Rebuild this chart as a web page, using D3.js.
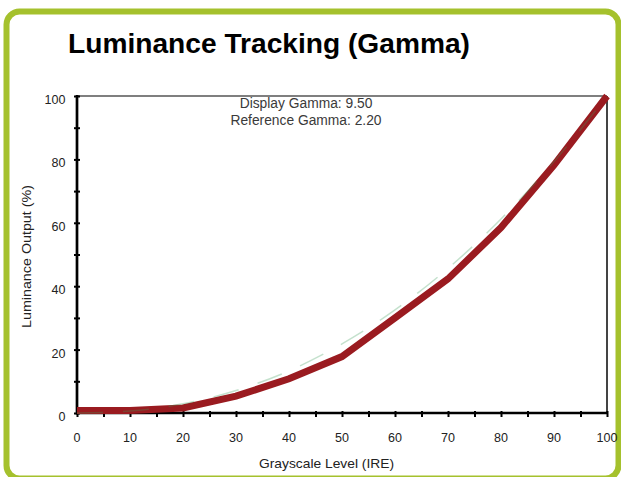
<!DOCTYPE html>
<html><head><meta charset="utf-8">
<script src="https://cdn.jsdelivr.net/npm/d3@7"></script>
<style>body{margin:0;background:#fff}svg{display:block}</style>
</head><body>
<svg id="c" width="621" height="477"></svg>
<script>
const levels = [0,10,20,30,40,50,60,70,80,90,100];
const displayLum = [0.8,0.8,1.6,5.3,10.8,17.8,30,42.3,58.5,78.2,100];
const referenceLum = [0,0.6,2.9,7.1,13.3,21.8,32.5,45.6,61.2,79.3,100];
const xTickLabels = [0,10,20,30,40,50,60,70,80,90,100];
const yTickLabels = [0,20,40,60,80,100];
const titleText = "Luminance Tracking (Gamma)";
const annotation = ["Display Gamma: 9.50","Reference Gamma: 2.20"];

const svg = d3.select("#c");
const FONT = "'Liberation Sans', Arial, Helvetica, sans-serif";

// green frame
svg.append("rect").attr("x",6.5).attr("y",11.5).attr("width",612).attr("height",467)
  .attr("rx",13).attr("fill","none").attr("stroke","#a5c12d").attr("stroke-width",6);

const x = d3.scaleLinear().domain([0,100]).range([77,607]);
const y = d3.scaleLinear().domain([0,100]).range([413,96]);

// title
svg.append("text").attr("x",68).attr("y",53).text(titleText)
  .attr("font-family",FONT).attr("font-weight","bold").attr("font-size",28).attr("fill","#000")
  .attr("textLength",402).attr("lengthAdjust","spacingAndGlyphs");

// frame top & right
svg.append("line").attr("x1",x(0)).attr("x2",x(100)).attr("y1",y(100)).attr("y2",y(100))
  .attr("stroke","#000").attr("stroke-width",1.2);
svg.append("line").attr("x1",x(100)).attr("x2",x(100)).attr("y1",y(100)).attr("y2",y(0))
  .attr("stroke","#444").attr("stroke-width",2);

// y axis
const yAxis = d3.axisLeft(y).tickValues(d3.range(0,101,10)).tickSize(6).tickFormat("");
const gy = svg.append("g").attr("transform",`translate(${x(0)+3},0)`).call(yAxis);
gy.select(".domain").remove();
gy.selectAll(".tick line").attr("stroke","#000").attr("stroke-width",2);
svg.append("line").attr("x1",x(0)).attr("x2",x(0)).attr("y1",y(100)-1).attr("y2",y(0)+1.5)
  .attr("stroke","#000").attr("stroke-width",2.7);
svg.selectAll(".ylab").data(yTickLabels).join("text").attr("class","ylab")
  .attr("x",65.5).attr("y",d=>y(d)+8).attr("text-anchor","end")
  .attr("font-family",FONT).attr("font-size",13.5).attr("fill","#222").text(d=>d)
  .attr("transform",d=>`translate(65.5,${y(d)+8}) scale(0.93,1) translate(-65.5,${-(y(d)+8)})`);

// x axis
const xAxis = d3.axisBottom(x).tickValues(d3.range(0,101,5)).tickSize(6).tickFormat("");
const gx = svg.append("g").attr("transform",`translate(0,${y(0)-2})`).call(xAxis);
gx.select(".domain").remove();
gx.selectAll(".tick line").attr("stroke","#000").attr("stroke-width",2);
svg.append("line").attr("x1",x(0)-1).attr("x2",x(100)+1).attr("y1",y(0)).attr("y2",y(0))
  .attr("stroke","#000").attr("stroke-width",2.7);
svg.selectAll(".xlab").data(xTickLabels).join("text").attr("class","xlab")
  .attr("x",d=>x(d)).attr("y",442).attr("text-anchor","middle")
  .attr("font-family",FONT).attr("font-size",13.5).attr("fill","#222").text(d=>d)
  .attr("transform",d=>`translate(${x(d)},442) scale(0.93,1) translate(${-x(d)},-442)`);

// axis titles
svg.append("text").attr("x",259).attr("y",468)
  .attr("font-family",FONT).attr("font-size",13.5).attr("fill","#222")
  .attr("textLength",135).attr("lengthAdjust","spacingAndGlyphs").text("Grayscale Level (IRE)");
svg.append("text").attr("transform","translate(31,328) rotate(-90)")
  .attr("font-family",FONT).attr("font-size",13.5).attr("fill","#222")
  .attr("textLength",143).attr("lengthAdjust","spacingAndGlyphs").text("Luminance Output (%)");

// annotation
svg.selectAll(".ann").data(annotation).join("text").attr("class","ann")
  .attr("x",306).attr("y",(d,i)=>108+i*17).attr("text-anchor","middle")
  .attr("font-family",FONT).attr("font-size",13.8).attr("fill","#3a3a3a").text(d=>d);

// display line
const line = d3.line().x((d,i)=>x(levels[i])).y(d=>y(d));
svg.append("path").attr("d",line(displayLum)).attr("fill","none")
  .attr("stroke","#9a1b20").attr("stroke-width",7).attr("stroke-linejoin","miter");

// reference line (on top, translucent)
const refLine = d3.line().x((d,i)=>x(levels[i])).y(d=>y(d)).curve(d3.curveMonotoneX);
svg.append("path").attr("d",refLine(referenceLum)).attr("fill","none")
  .attr("stroke","#3a9a5a").attr("stroke-opacity",0.3).attr("stroke-width",1.5)
  .attr("stroke-dasharray","26,20");
</script>
</body></html>
